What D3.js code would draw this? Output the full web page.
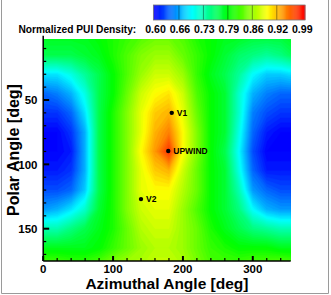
<!DOCTYPE html>
<html>
<head>
<meta charset="utf-8">
<script src="https://cdn.jsdelivr.net/npm/d3@7"></script>
<style>
  body { margin: 0; background: #fff; }
  svg { display: block; font-family: "Liberation Sans", Arial, sans-serif; font-weight: bold; }
</style>
</head>
<body>
<div id="chart"></div>
<script>
// grid positions (deg)
const azimuthDeg = [0, 20, 40, 60, 80, 100, 120, 140, 160, 180, 200, 220, 240, 260, 280, 300, 320, 340, 360];
const polarDeg = [0, 15, 30, 45, 60, 75, 90, 105, 120, 135, 150, 165, 180];

// normalized PUI density, one row per polar angle
const density = [
  [0.79, 0.79, 0.79, 0.79, 0.80, 0.81, 0.82, 0.83, 0.84, 0.84, 0.83, 0.81, 0.80, 0.79, 0.79, 0.78, 0.78, 0.78, 0.79],
  [0.77, 0.77, 0.77, 0.78, 0.79, 0.81, 0.83, 0.85, 0.86, 0.86, 0.84, 0.82, 0.80, 0.78, 0.76, 0.75, 0.74, 0.75, 0.77],
  [0.69, 0.69, 0.71, 0.74, 0.77, 0.80, 0.83, 0.86, 0.88, 0.88, 0.86, 0.82, 0.79, 0.77, 0.74, 0.70, 0.68, 0.68, 0.69],
  [0.64, 0.65, 0.67, 0.71, 0.77, 0.80, 0.84, 0.88, 0.90, 0.91, 0.88, 0.83, 0.80, 0.78, 0.72, 0.67, 0.65, 0.64, 0.64],
  [0.62, 0.62, 0.64, 0.69, 0.77, 0.81, 0.85, 0.89, 0.92, 0.93, 0.89, 0.84, 0.80, 0.78, 0.72, 0.65, 0.63, 0.62, 0.62],
  [0.60, 0.60, 0.62, 0.67, 0.77, 0.81, 0.85, 0.89, 0.93, 0.95, 0.90, 0.85, 0.80, 0.78, 0.71, 0.64, 0.61, 0.60, 0.60],
  [0.60, 0.60, 0.61, 0.67, 0.77, 0.81, 0.85, 0.90, 0.94, 0.98, 0.90, 0.85, 0.80, 0.77, 0.70, 0.63, 0.60, 0.60, 0.60],
  [0.61, 0.61, 0.62, 0.67, 0.77, 0.81, 0.85, 0.89, 0.92, 0.93, 0.88, 0.84, 0.80, 0.78, 0.71, 0.64, 0.61, 0.61, 0.61],
  [0.63, 0.63, 0.64, 0.68, 0.77, 0.81, 0.85, 0.89, 0.90, 0.90, 0.87, 0.84, 0.80, 0.78, 0.73, 0.66, 0.64, 0.63, 0.63],
  [0.66, 0.67, 0.69, 0.72, 0.78, 0.81, 0.85, 0.88, 0.89, 0.89, 0.86, 0.83, 0.80, 0.78, 0.75, 0.70, 0.67, 0.66, 0.66],
  [0.73, 0.73, 0.75, 0.77, 0.79, 0.81, 0.84, 0.87, 0.88, 0.88, 0.86, 0.84, 0.81, 0.79, 0.77, 0.75, 0.74, 0.73, 0.73],
  [0.79, 0.79, 0.79, 0.79, 0.80, 0.82, 0.84, 0.86, 0.87, 0.87, 0.86, 0.84, 0.82, 0.81, 0.80, 0.80, 0.80, 0.79, 0.79],
  [0.84, 0.84, 0.83, 0.83, 0.84, 0.86, 0.87, 0.87, 0.88, 0.88, 0.87, 0.85, 0.83, 0.83, 0.83, 0.84, 0.84, 0.85, 0.84]
];

const legendTicks = [0.60, 0.665, 0.73, 0.795, 0.86, 0.925, 0.99];
const legendLabels = ["0.60", "0.66", "0.73", "0.79", "0.86", "0.92", "0.99"];

const markerNames = ["V1", "UPWIND", "V2"];
const markerAzimuth = [184, 179, 140];
const markerPolar = [60, 89.6, 127];

const xTicks = [0, 100, 200, 300];
const yTicks = [50, 100, 150];

const width = 331, height = 295;
const plot = {left: 43.2, right: 290.7, top: 39, bottom: 261};

const svg = d3.select("#chart").append("svg")
    .attr("width", width)
    .attr("height", height);

const x = d3.scaleLinear().domain([0, 360]).range([43.2, 294.7]);
const y = d3.scaleLinear().domain([0, 180]).range([35.65, 267.3]);

const color = d3.scaleLinear()
    .domain([0.6, 0.7, 0.8, 0.9, 1.0])
    .range(["#0000ff", "#00ffff", "#00ff00", "#ffff00", "#ff0000"])
    .clamp(true);

// outer frame (left, right, bottom)
svg.append("path")
    .attr("d", `M1.5,0 V293.5 H328.5 V0`)
    .attr("fill", "none")
    .attr("stroke", "#9a9a9a")
    .attr("stroke-width", 1);

// clip for the flooded contours
svg.append("clipPath").attr("id", "plotclip")
  .append("rect")
    .attr("x", plot.left).attr("y", plot.top)
    .attr("width", plot.right - plot.left)
    .attr("height", plot.bottom - plot.top);

const nx = azimuthDeg.length, ny = polarDeg.length;
const stepX = azimuthDeg[1] - azimuthDeg[0];
const stepY = polarDeg[1] - polarDeg[0];
const levels = d3.range(0.56, 1.0, 0.005);
const bands = d3.contours().size([nx, ny]).thresholds(levels)(density.flat());

const gridToScreen = d3.geoTransform({
    point: function(px, py) {
        this.stream.point(x(azimuthDeg[0] + (px - 0.5) * stepX), y(polarDeg[0] + (py - 0.5) * stepY));
    }
});
const path = d3.geoPath(gridToScreen);

svg.append("g")
    .attr("clip-path", "url(#plotclip)")
  .selectAll("path")
  .data(bands)
  .join("path")
    .attr("d", path)
    .attr("fill", d => color(d.value + 0.0025))
    .attr("stroke", d => color(d.value + 0.0025))
    .attr("stroke-width", 0.3);

// axes
const axes = svg.append("g").attr("stroke", "#000");
axes.append("line")
    .attr("x1", plot.left).attr("x2", plot.left)
    .attr("y1", y(0)).attr("y2", plot.bottom)
    .attr("stroke-width", 1.5);
axes.append("line")
    .attr("x1", plot.left).attr("x2", plot.right)
    .attr("y1", plot.bottom).attr("y2", plot.bottom)
    .attr("stroke-width", 1.5);

const xMinor = d3.range(20, 360, 20).filter(v => v % 100 !== 0 && x(v) < plot.right);
const yMinor = d3.range(10, 180, 10).filter(v => v % 50 !== 0 && y(v) < plot.bottom);

axes.selectAll(".xmaj").data(xTicks).join("line")
    .attr("x1", d => x(d)).attr("x2", d => x(d))
    .attr("y1", plot.bottom).attr("y2", plot.bottom - 5)
    .attr("stroke-width", 2);
axes.selectAll(".xmin").data(xMinor).join("line")
    .attr("x1", d => x(d)).attr("x2", d => x(d))
    .attr("y1", plot.bottom).attr("y2", plot.bottom - 3)
    .attr("stroke-width", 1.2);
axes.selectAll(".ymaj").data(yTicks).join("line")
    .attr("x1", plot.left).attr("x2", plot.left + 6)
    .attr("y1", d => y(d)).attr("y2", d => y(d))
    .attr("stroke-width", 2);
axes.selectAll(".ymin").data(yMinor).join("line")
    .attr("x1", plot.left).attr("x2", plot.left + 3)
    .attr("y1", d => y(d)).attr("y2", d => y(d))
    .attr("stroke-width", 1.2);

svg.append("g").selectAll("text").data(xTicks).join("text")
    .attr("x", d => x(d))
    .attr("y", 272.5)
    .attr("text-anchor", "middle")
    .style("font-size", "11.5px")
    .text(d => d);

svg.append("g").selectAll("text").data(yTicks).join("text")
    .attr("x", 37.5)
    .attr("y", d => y(d) + 4.2)
    .attr("text-anchor", "end")
    .style("font-size", "11.5px")
    .text(d => d);

svg.append("text")
    .attr("x", (plot.left + plot.right) / 2)
    .attr("y", 288.5)
    .attr("text-anchor", "middle")
    .style("font-size", "15.5px")
    .text("Azimuthal Angle [deg]");

svg.append("text")
    .attr("transform", `translate(19,${(plot.top + plot.bottom) / 2}) rotate(-90)`)
    .attr("text-anchor", "middle")
    .style("font-size", "16px")
    .text("Polar Angle [deg]");

// markers
const marks = svg.append("g");
markerNames.forEach((name, i) => {
    const mx = x(markerAzimuth[i]), my = y(markerPolar[i]);
    marks.append("circle").attr("cx", mx).attr("cy", my).attr("r", 2.2).attr("fill", "#000");
    marks.append("text")
        .attr("x", mx + 5).attr("y", my + 3)
        .style("font-size", "8.5px")
        .text(name);
});

// colour legend
const lx = d3.scaleLinear().domain([0.6, 1.0]).range([154.5, 305]);
const legend = svg.append("g");
const stripes = d3.range(0.597, 1.0, 0.0025);
legend.selectAll("rect").data(stripes).join("rect")
    .attr("x", d => lx(d))
    .attr("y", 5)
    .attr("width", d => Math.max(0, Math.min(lx(d + 0.0025), 305) - lx(d)) + 0.3)
    .attr("height", 15)
    .attr("fill", d => color(d + 0.00125));
legend.selectAll("line").data(legendTicks.slice(1, -1)).join("line")
    .attr("x1", d => lx(d)).attr("x2", d => lx(d))
    .attr("y1", 5).attr("y2", 20)
    .attr("stroke", "rgba(0,0,0,0.4)")
    .attr("stroke-width", 1);
legend.append("rect")
    .attr("x", lx(0.597)).attr("y", 5)
    .attr("width", 305 - lx(0.597)).attr("height", 15)
    .attr("fill", "none")
    .attr("stroke", "#777")
    .attr("stroke-width", 0.8);

svg.append("text")
    .attr("x", 18.5).attr("y", 33)
    .style("font-size", "10.2px")
    .text("Normalized PUI Density:");

legend.selectAll("text").data(legendTicks).join("text")
    .attr("x", d => lx(d) + 1)
    .attr("y", 33)
    .attr("text-anchor", "middle")
    .style("font-size", "10.6px")
    .text((d, i) => legendLabels[i]);
</script>
</body>
</html>
